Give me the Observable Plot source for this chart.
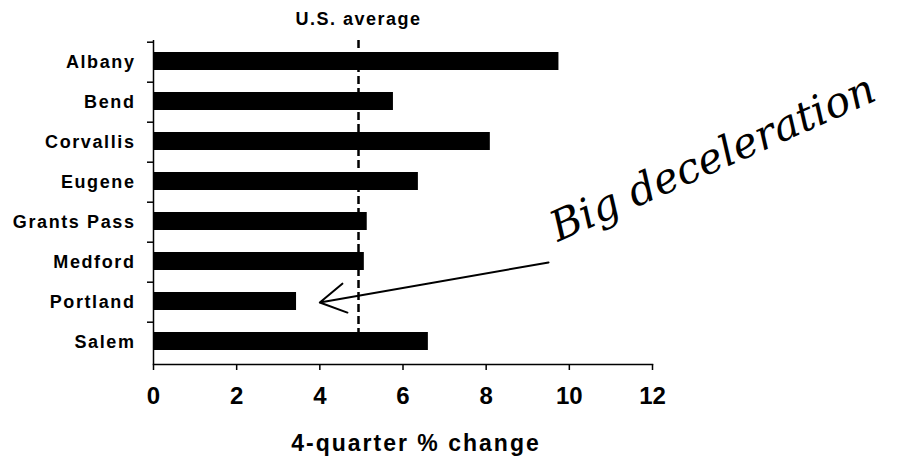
<!DOCTYPE html>
<html>
<head>
<meta charset="utf-8">
<script src="https://cdn.jsdelivr.net/npm/d3@7"></script>
<script src="https://cdn.jsdelivr.net/npm/@observablehq/plot@0.6"></script>
<style>
  html, body { margin: 0; padding: 0; background: #fff; }
  svg { font-family: "Liberation Sans", Arial, sans-serif; }
</style>
</head>
<body>
<div id="chart"></div>
<script>
const cities = ["Albany", "Bend", "Corvallis", "Eugene", "Grants Pass", "Medford", "Portland", "Salem"];
const changes = [9.75, 5.77, 8.1, 6.37, 5.14, 5.07, 3.44, 6.61];
const usAverage = 4.93;
const xTicks = [0, 2, 4, 6, 8, 10, 12];
const xLabel = "4-quarter % change";
const avgLabel = "U.S. average";
const noteText = "Big deceleration";
const noteX = 13.45, noteCity = "Eugene";
const arrowFrom = {x: 9.5, city: "Medford"};
const arrowTo = {x: 4.0, city: "Portland"};

const data = cities.map((c, i) => ({city: c, value: changes[i]}));

const chart = Plot.plot({
  width: 905,
  height: 461,
  marginLeft: 153,
  marginRight: 253,
  marginTop: 40,
  marginBottom: 97,
  style: {fontFamily: "'Liberation Sans', Arial, sans-serif", color: "#000", background: "#fff", overflow: "visible"},
  x: {domain: [0, 12]},
  y: {domain: cities, paddingInner: 0, paddingOuter: 0},
  marks: [
    Plot.barX(data, {x: "value", y: "city", fill: "#000", insetTop: 10, insetBottom: 12}),
    Plot.ruleX([usAverage], {stroke: "#000", strokeWidth: 2.5, strokeDasharray: "8,4", insetBottom: 12}),
    Plot.text([avgLabel], {x: () => usAverage, frameAnchor: "top", lineAnchor: "middle", dy: -21.5, fontSize: 18, fontWeight: "bold", fill: "#000", text: d => d}),
    Plot.ruleX([0], {stroke: "#000", strokeWidth: 1.5}),
    Plot.frame({anchor: "bottom", stroke: "#000", strokeWidth: 1.5}),
    Plot.axisY({tickSize: 6, dy: -20.3, tickFormat: () => "", label: null, strokeWidth: 1.5}),
    Plot.axisY({tickSize: 0, tickPadding: 18, fontSize: 18, fontWeight: "bold", label: null}),
    Plot.axisX({ticks: xTicks, tickSize: 6, tickPadding: 16, fontSize: 24, fontWeight: "bold", strokeWidth: 1.5, label: null}),
    Plot.text([xLabel], {frameAnchor: "bottom", lineAnchor: "middle", dy: 79, dx: 13, fontSize: 23, fontWeight: "bold", fill: "#000", text: d => d}),
    Plot.arrow([0], {x1: () => arrowFrom.x, y1: () => arrowFrom.city, x2: () => arrowTo.x, y2: () => arrowTo.city,
      stroke: "#000", strokeWidth: 2, headLength: 22, bend: 0}),
    Plot.text([noteText], {x: () => noteX, y: () => noteCity, dy: -24, rotate: -24, fontSize: 42,
      fontStyle: "italic", fontFamily: "'DejaVu Serif', serif", fill: "#000", text: d => d})
  ]
});
document.getElementById("chart").appendChild(chart);
// letter spacing to match the reference's wide type
chart.querySelectorAll("[aria-label='y-axis tick label'] text").forEach(e => e.setAttribute("letter-spacing", "1.6"));
chart.querySelectorAll("text").forEach(e => {
  const t = e.textContent;
  if (t === avgLabel) e.setAttribute("letter-spacing", "1.5");
  if (t === xLabel) e.setAttribute("letter-spacing", "2");
});
</script>
</body>
</html>
